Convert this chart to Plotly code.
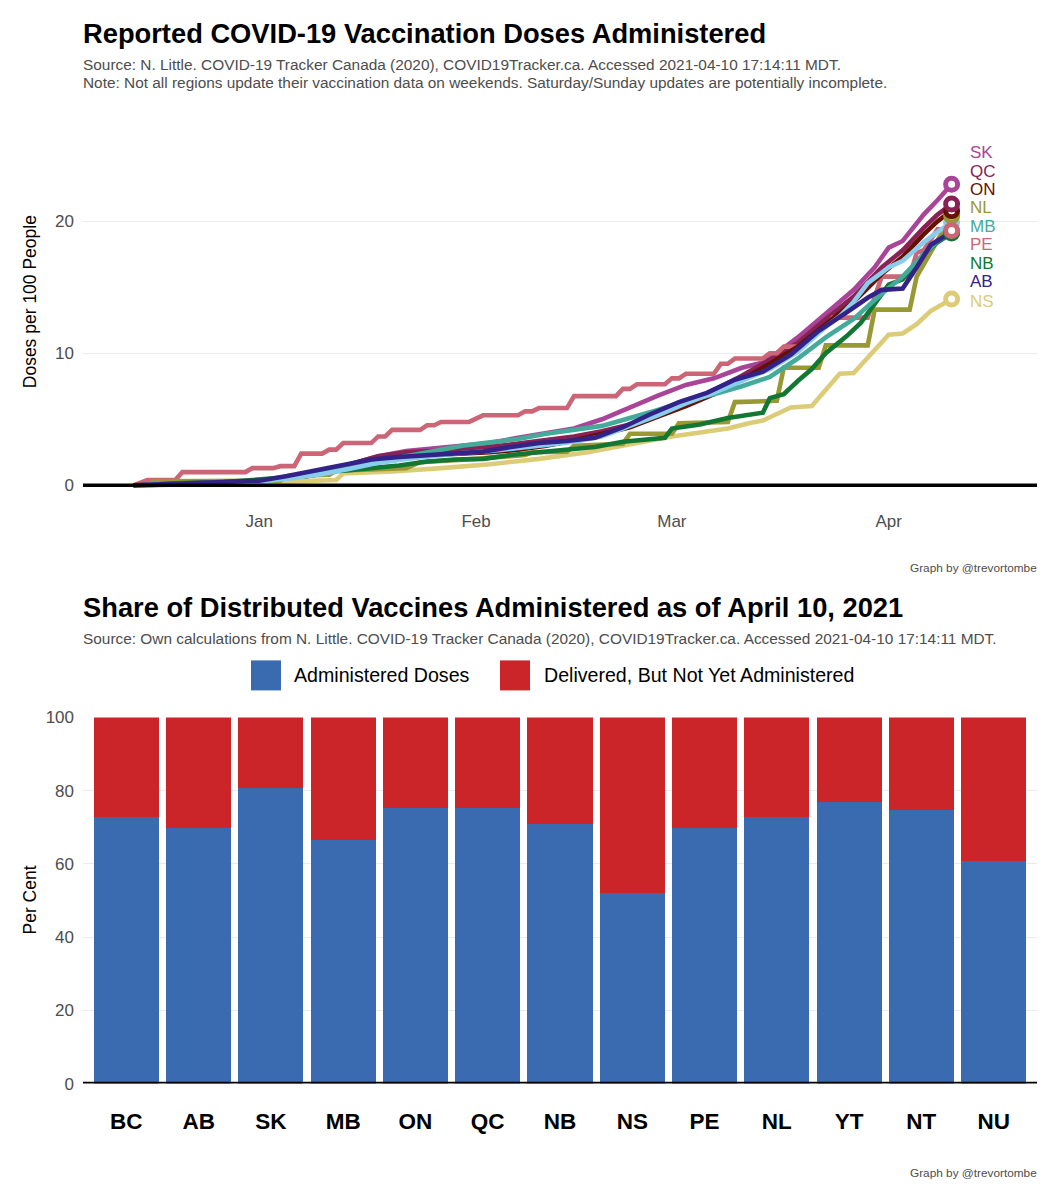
import plotly.graph_objects as go

# ---------------- data: doses per 100 people ----------------
AB_dates = ["12-14","12-20","12-27","01-01","01-05","01-09","01-13","01-17","01-21","01-25","01-29","02-02","02-06","02-10","02-14","02-18","02-22","02-26","03-02","03-06","03-10","03-14","03-18","03-22","03-26","03-29","03-31","04-03","04-05","04-07","04-10"]
AB_vals = [0, 0.1, 0.2, 0.35, 0.7, 1.1, 1.5, 1.95, 2.15, 2.3, 2.45, 2.55, 2.9, 3.2, 3.35, 3.6, 4.4, 5.4, 6.3, 7.0, 8.0, 8.6, 9.9, 11.7, 13.1, 14.2, 14.8, 14.9, 16.5, 18.2, 19.2]

BC_dates = ["12-15","12-20","12-27","01-01","01-06","01-10","01-14","01-18","01-22","01-26","01-30","02-03","02-07","02-11","02-15","02-19","02-23","02-27","03-03","03-07","03-11","03-15","03-19","03-23","03-25","03-27","03-29","04-01","04-03","04-06","04-08","04-10"]
BC_vals = [0, 0.1, 0.2, 0.3, 0.55, 0.85, 1.25, 1.7, 2.0, 2.25, 2.45, 2.6, 2.8, 3.05, 3.3, 3.7, 4.5, 5.3, 6.2, 7.0, 7.9, 8.8, 10.1, 12.0, 12.8, 13.9, 15.3, 16.5, 17.0, 18.4, 19.2, 19.9]

MB_dates = ["12-16","12-20","12-27","01-01","01-05","01-10","01-14","01-18","01-22","01-26","01-30","02-03","02-07","02-11","02-15","02-19","02-23","02-27","03-03","03-07","03-11","03-15","03-19","03-23","03-27","03-31","04-03","04-06","04-08","04-10"]
MB_vals = [0, 0.05, 0.15, 0.3, 0.55, 1.0, 1.4, 1.8, 2.2, 2.6, 3.0, 3.25, 3.5, 3.9, 4.2, 4.5, 5.1, 5.7, 6.4, 6.9, 7.5, 8.2, 9.6, 11.2, 12.6, 14.5, 15.8, 17.5, 18.5, 19.2]

NB_dates = ["12-15","12-20","12-27","01-01","01-05","01-09","01-13","01-17","01-21","01-25","01-29","02-02","02-06","02-10","02-14","02-18","02-22","02-26","02-28","03-01","03-05","03-09","03-13","03-14","03-15","03-17","03-19","03-21","03-23","03-26","03-28","03-30","04-01","04-03","04-06","04-08","04-10"]
NB_vals = [0, 0.15, 0.25, 0.4, 0.6, 1.0, 1.1, 1.3, 1.5, 1.8, 1.95, 2.0, 2.3, 2.5, 2.7, 2.9, 3.3, 3.5, 3.6, 4.3, 4.6, 5.1, 5.4, 5.5, 6.6, 6.9, 7.9, 8.8, 10.0, 11.3, 12.3, 13.8, 15.2, 15.6, 17.5, 18.4, 19.1]

NL_dates = ["12-16","12-17","01-04","01-05","01-11","01-12","01-22","01-24","02-01","02-08","02-09","02-14","02-15","02-22","02-23","03-01","03-02","03-09","03-10","03-16","03-17","03-22","03-23","03-29","03-30","04-04","04-05","04-07","04-09","04-10"]
NL_vals = [0, 0.3, 0.35, 0.7, 0.8, 1.1, 1.3, 1.75, 2.0, 2.3, 2.5, 2.55, 3.0, 3.15, 3.9, 3.9, 4.7, 4.8, 6.3, 6.4, 8.9, 8.9, 10.6, 10.6, 13.3, 13.3, 15.8, 17.6, 19.5, 20.4]

NS_dates = ["12-16","12-20","12-31","01-10","01-12","01-13","01-20","01-27","02-03","02-10","02-17","02-24","03-01","03-05","03-09","03-12","03-14","03-16","03-18","03-21","03-25","03-27","04-01","04-03","04-05","04-07","04-10"]
NS_vals = [0, 0.1, 0.2, 0.35, 0.4, 0.9, 1.05, 1.3, 1.6, 2.0, 2.5, 3.2, 3.7, 4.0, 4.3, 4.7, 4.9, 5.4, 5.9, 6.0, 8.45, 8.5, 11.4, 11.5, 12.2, 13.2, 14.1]

ON_dates = ["12-14","12-20","12-27","01-01","01-06","01-10","01-14","01-18","01-22","01-26","01-30","02-03","02-07","02-11","02-15","02-19","02-23","02-27","03-03","03-07","03-11","03-15","03-19","03-23","03-27","03-31","04-03","04-06","04-08","04-10"]
ON_vals = [0, 0.05, 0.15, 0.25, 0.5, 0.9, 1.4, 1.9, 2.2, 2.3, 2.4, 2.5, 2.7, 3.0, 3.4, 3.9, 4.4, 5.2, 6.0, 6.9, 8.0, 9.2, 10.5, 12.2, 13.9, 16.0, 17.3, 19.0, 20.0, 20.8]

PE_dates = ["12-14","12-16","12-20","12-21","12-30","12-31","01-03","01-04","01-06","01-07","01-10","01-11","01-12","01-13","01-17","01-18","01-19","01-20","01-24","01-25","01-26","01-27","01-31","02-02","02-07","02-08","02-09","02-10","02-14","02-15","02-21","02-22","02-23","02-24","02-28","03-01","03-02","03-03","03-07","03-08","03-09","03-10","03-14","03-15","03-16","03-17","03-19","03-21","03-23","03-24","03-29","03-31","04-04","04-05","04-06","04-08","04-10"]
PE_vals = [0, 0.4, 0.4, 1.0, 1.0, 1.3, 1.3, 1.45, 1.45, 2.4, 2.4, 2.7, 2.7, 3.2, 3.2, 3.7, 3.7, 4.2, 4.2, 4.55, 4.55, 4.8, 4.8, 5.3, 5.3, 5.6, 5.6, 5.85, 5.85, 6.75, 6.75, 7.3, 7.3, 7.65, 7.65, 8.1, 8.1, 8.45, 8.45, 9.2, 9.2, 9.6, 9.6, 10.0, 10.0, 10.5, 10.5, 11.3, 12.0, 12.7, 12.7, 15.8, 15.8, 17.6, 17.8, 19.4, 19.3]

QC_dates = ["12-14","12-20","12-27","01-01","01-06","01-10","01-14","01-18","01-22","01-26","01-30","02-03","02-07","02-11","02-15","02-19","02-23","02-27","03-03","03-07","03-11","03-15","03-19","03-23","03-27","03-31","04-03","04-06","04-08","04-10"]
QC_vals = [0, 0.1, 0.2, 0.3, 0.6, 1.0, 1.6, 2.2, 2.5, 2.6, 2.7, 2.9, 3.15, 3.4, 3.7, 4.1, 4.6, 5.3, 6.1, 7.2, 8.3, 9.5, 10.8, 12.6, 14.3, 16.5, 17.8, 19.5, 20.5, 21.3]

SK_dates = ["12-15","12-18","12-24","12-31","01-05","01-10","01-14","01-18","01-22","01-26","01-30","02-03","02-07","02-11","02-15","02-19","02-23","02-27","03-03","03-07","03-11","03-14","03-16","03-19","03-23","03-27","03-30","04-01","04-03","04-06","04-08","04-10"]
SK_vals = [0, 0.05, 0.15, 0.3, 0.5, 0.9, 1.6, 2.2, 2.6, 2.8, 2.95, 3.2, 3.6, 3.95, 4.3, 5.0, 5.9, 6.8, 7.6, 8.1, 8.9, 9.3, 10.0, 11.2, 13.0, 14.8, 16.5, 18.0, 18.5, 20.5, 21.6, 22.8]

MONTH_TICKS = ["2021-01-01", "2021-02-01", "2021-03-01", "2021-04-01"]
MONTH_LABELS = ["Jan", "Feb", "Mar", "Apr"]
LINE_Y_TICKS = [0, 10, 20]

# end labels (ggrepel-style label order)
LABEL_ORDER = ["SK", "QC", "ON", "NL", "MB", "PE", "NB", "AB", "NS"]
LABEL_Y = [25.2, 23.8, 22.4, 21.0, 19.6, 18.2, 16.8, 15.4, 13.9]

# ---------------- data: share administered (bar chart) ----------------
BAR_REGIONS = ["BC", "AB", "SK", "MB", "ON", "QC", "NB", "NS", "PE", "NL", "YT", "NT", "NU"]
ADMINISTERED = [72.8, 69.9, 80.8, 66.6, 75.4, 75.2, 70.9, 52.1, 69.8, 72.9, 77.0, 74.8, 60.8]
BAR_Y_TICKS = [0, 20, 40, 60, 80, 100]

# ---------------- styles ----------------
COLORS = {
    "AB": "#332288", "BC": "#88CCEE", "MB": "#44AA99", "NB": "#117733",
    "NL": "#999933", "NS": "#DDCC77", "ON": "#661100", "PE": "#CC6677",
    "QC": "#882255", "SK": "#AA4499",
}
BLUE = "#3A6BB1"
RED = "#CB2529"
FONT = "Liberation Sans, Arial, sans-serif"
GREY = "#4D4D4D"
# page body has an 8px margin; figure sized to fit the window
OFF = 8
W, H = 1059 - 2 * OFF, 1200 - 2 * OFF
# measured vertical mapping of the photographed page: page_y = V_OFF + V_SCALE * fig_y
V_OFF, V_SCALE = 16.9, 0.9835

series = {
    "AB": (AB_dates, AB_vals), "BC": (BC_dates, BC_vals), "MB": (MB_dates, MB_vals),
    "NB": (NB_dates, NB_vals), "NL": (NL_dates, NL_vals), "NS": (NS_dates, NS_vals),
    "ON": (ON_dates, ON_vals), "PE": (PE_dates, PE_vals), "QC": (QC_dates, QC_vals),
    "SK": (SK_dates, SK_vals),
}
LINE_DRAW_ORDER = ["SK", "QC", "PE", "ON", "NS", "NL", "NB", "MB", "BC", "AB"]
MARKER_DRAW_ORDER = ["AB", "BC", "MB", "NB", "NL", "NS", "ON", "PE", "QC", "SK"]


def full_date(md):
    return ("2020-" if md.startswith("12") else "2021-") + md


def px(x):
    return (x - OFF) / W


def py(y):
    fig_y = (y - V_OFF) / V_SCALE
    return 1 - fig_y / H


fig = go.Figure()

# lines
for prov in LINE_DRAW_ORDER:
    ds, vs = series[prov]
    fig.add_trace(go.Scatter(
        x=[full_date(d) for d in ds], y=vs, mode="lines",
        line=dict(color=COLORS[prov], width=4.6),
        xaxis="x", yaxis="y", showlegend=False, hoverinfo="skip"))
# end-point circles
for prov in MARKER_DRAW_ORDER:
    ds, vs = series[prov]
    fig.add_trace(go.Scatter(
        x=[full_date(ds[-1])], y=[vs[-1]], mode="markers",
        marker=dict(symbol="circle", size=12, color="white",
                    line=dict(color=COLORS[prov], width=5)),
        xaxis="x", yaxis="y", showlegend=False, hoverinfo="skip"))

# bars
fig.add_trace(go.Bar(x=BAR_REGIONS, y=ADMINISTERED, marker=dict(color=BLUE, line=dict(width=0)),
                     xaxis="x2", yaxis="y2", showlegend=False, width=0.9))
fig.add_trace(go.Bar(x=BAR_REGIONS, y=[100 - a for a in ADMINISTERED],
                     marker=dict(color=RED, line=dict(width=0)),
                     xaxis="x2", yaxis="y2", showlegend=False, width=0.9))

annotations = []


def ann(text, x, y, size, color="black", bold=False, xanchor="left", yanchor="middle",
        angle=0, xref="paper", yref="paper"):
    annotations.append(dict(
        text=text, x=x, y=y, xref=xref, yref=yref, xanchor=xanchor, yanchor=yanchor,
        showarrow=False, textangle=angle,
        font=dict(family=FONT, size=size, color=color, weight="bold" if bold else "normal")))


# top chart texts
ann("Reported COVID-19 Vaccination Doses Administered", px(81), py(33), 27.3, bold=True)
ann("Source: N. Little. COVID-19 Tracker Canada (2020), COVID19Tracker.ca. Accessed 2021-04-10 17:14:11 MDT.",
    px(81), py(64), 15.4, color=GREY)
ann("Note: Not all regions update their vaccination data on weekends. Saturday/Sunday updates are potentially incomplete.",
    px(81), py(82), 15.4, color=GREY)
ann("Doses per 100 People", px(30), py(302), 17.5, angle=-90, xanchor="center")
ann("Graph by @trevortombe", px(1039), py(568), 11.8, color=GREY, xanchor="right")

for prov, ly in zip(LABEL_ORDER, LABEL_Y):
    ann(prov, "2021-04-12 07:00", ly, 17, color=COLORS[prov], xref="x", yref="y")

# bottom chart texts
ann("Share of Distributed Vaccines Administered as of April 10, 2021", px(81), py(607), 27.3, bold=True)
ann("Source: Own calculations from N. Little. COVID-19 Tracker Canada (2020), COVID19Tracker.ca. Accessed 2021-04-10 17:14:11 MDT.",
    px(81), py(638), 15.4, color=GREY)
ann("Administered Doses", px(292), py(675), 19.6)
ann("Delivered, But Not Yet Administered", px(542), py(675), 19.6)
ann("Per Cent", px(30), py(900), 17.5, angle=-90, xanchor="center")
ann("Graph by @trevortombe", px(1039), py(1172), 11.8, color=GREY, xanchor="right")

shapes = [
    # zero lines
    dict(type="line", xref="x domain", yref="y", x0=0, x1=1, y0=0, y1=0,
         line=dict(color="black", width=3.5), layer="above"),
    dict(type="line", xref="x2 domain", yref="y2", x0=0, x1=1, y0=0, y1=0,
         line=dict(color="black", width=3.5), layer="above"),
    # legend keys
    dict(type="rect", xref="paper", yref="paper", x0=px(251), x1=px(281), y0=py(690), y1=py(660),
         fillcolor=BLUE, line=dict(width=0)),
    dict(type="rect", xref="paper", yref="paper", x0=px(500), x1=px(530), y0=py(690), y1=py(660),
         fillcolor=RED, line=dict(width=0)),
]

# top panel geometry (reference pixels): y=0 at 485px, 13.2 px per unit
y_lo, y_hi = -1.8, 25.5
top_bottom_px = 485 + (-y_lo) * 13.2
top_top_px = 485 - y_hi * 13.2

fig.update_layout(
    width=W, height=H, margin=dict(l=0, r=0, t=0, b=0),
    paper_bgcolor="white", plot_bgcolor="white",
    font=dict(family=FONT),
    barmode="stack", bargap=0.1,
    showlegend=False,
    annotations=annotations, shapes=shapes,
    xaxis=dict(domain=[px(83), px(1037)], type="date",
               range=["2020-12-06 19:00", "2021-04-22 05:00"],
               tickvals=MONTH_TICKS, ticktext=MONTH_LABELS,
               showgrid=False, zeroline=False, showline=False, ticks="",
               tickfont=dict(size=17, color=GREY), anchor="y"),
    yaxis=dict(domain=[py(top_bottom_px), py(top_top_px)], range=[y_lo, y_hi],
               tickvals=LINE_Y_TICKS, showgrid=True, gridcolor="#EBEBEB", gridwidth=1.2,
               zeroline=False, showline=False, ticks="", ticklabelstandoff=8,
               tickfont=dict(size=17, color=GREY), anchor="x"),
    xaxis2=dict(domain=[px(83), px(1037)], range=[-0.6, 12.6],
                showgrid=False, zeroline=False, showline=False, ticks="",
                ticklabelstandoff=22,
                tickfont=dict(size=22.5, color="black", weight="bold"), anchor="y2"),
    yaxis2=dict(domain=[py(1083), py(717)], range=[0, 100], tickvals=BAR_Y_TICKS,
                showgrid=True, gridcolor="#EBEBEB", gridwidth=1.2,
                zeroline=False, showline=False, ticks="", ticklabelstandoff=8,
                tickfont=dict(size=17, color=GREY), anchor="x2"),
)

fig.write_html("out.html")
